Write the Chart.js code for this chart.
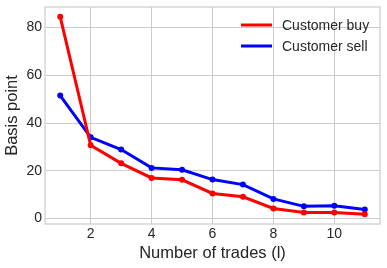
<!DOCTYPE html>
<html>
<head>
<meta charset="utf-8">
<script src="https://cdn.jsdelivr.net/npm/chart.js@4"></script>
<style>
  html, body { margin: 0; padding: 0; background: #fff; }
  #wrap { width: 387px; height: 268px; }
</style>
</head>
<body>
<div id="wrap"><canvas id="graph" width="387" height="268"></canvas></div>
<script>
// data
const trades = [1, 2, 3, 4, 5, 6, 7, 8, 9, 10, 11];
const customerBuy = [84.5, 30.7, 23.1, 17.0, 16.2, 10.5, 9.1, 4.2, 2.5, 2.5, 1.8];
const customerSell = [51.5, 34.0, 28.9, 21.2, 20.4, 16.3, 14.2, 8.2, 5.1, 5.3, 3.8];
const xTicks = [2, 4, 6, 8, 10];
const yTicks = [0, 20, 40, 60, 80];

const fontFamily = "'Liberation Sans', Arial, sans-serif";
const textColor = '#262626';
const gridColor = '#cccccc';

const toPoints = (ys) => trades.map((x, i) => ({ x: x, y: ys[i] }));

// frame round the plot area + legend inside, like the matplotlib whitegrid look
const framePlugin = {
    id: 'frame',
    afterDraw(chart) {
        const ctx = chart.ctx;
        const a = chart.chartArea;
        ctx.save();
        ctx.strokeStyle = gridColor;
        ctx.lineWidth = 1.2;
        ctx.strokeRect(a.left, a.top, a.right - a.left, a.bottom - a.top);

        // legend
        ctx.font = '14px ' + fontFamily;
        ctx.textBaseline = 'middle';
        ctx.textAlign = 'left';
        chart.data.datasets.forEach((ds, i) => {
            const y = 25 + i * 21;
            ctx.strokeStyle = ds.borderColor;
            ctx.lineWidth = 3;
            ctx.beginPath();
            ctx.moveTo(241, y);
            ctx.lineTo(272, y);
            ctx.stroke();
            ctx.fillStyle = textColor;
            ctx.fillText(ds.label, 282, y + 1);
        });
        ctx.restore();
    }
};

const ctx = document.getElementById('graph').getContext('2d');
const dataChart = new Chart(ctx, {
    type: 'line',
    data: {
        datasets: [
            {
                label: 'Customer buy',
                data: toPoints(customerBuy),
                borderColor: '#ff0000',
                backgroundColor: '#ff0000',
                pointBackgroundColor: '#ff0000',
                borderWidth: 3,
                pointRadius: 3,
                pointBorderWidth: 0,
                tension: 0,
            },
            {
                label: 'Customer sell',
                data: toPoints(customerSell),
                borderColor: '#0000ff',
                backgroundColor: '#0000ff',
                pointBackgroundColor: '#0000ff',
                borderWidth: 3,
                pointRadius: 3,
                pointBorderWidth: 0,
                tension: 0,
            },
        ],
    },
    options: {
        responsive: false,
        animation: false,
        devicePixelRatio: 1,
        layout: { padding: { top: 7, right: 7, left: 0, bottom: 0 } },
        plugins: {
            legend: { display: false },
            tooltip: { enabled: false },
        },
        scales: {
            x: {
                type: 'linear',
                min: 0.5,
                max: 11.5,
                afterBuildTicks: (axis) => { axis.ticks = xTicks.map(v => ({ value: v })); },
                afterFit: (axis) => {
                    axis.height = 44;
                    axis.paddingLeft = 0;
                    axis.paddingRight = 0;
                },
                grid: { color: gridColor, lineWidth: 1, drawTicks: false },
                border: { display: false },
                ticks: {
                    color: textColor,
                    padding: 2,
                    font: { family: fontFamily, size: 14 },
                    maxRotation: 0,
                },
                title: {
                    display: true,
                    text: 'Number of trades (l)',
                    color: textColor,
                    font: { family: fontFamily, size: 16.5 },
                    padding: { top: 1, bottom: 5 },
                },
            },
            y: {
                min: -2.3,
                max: 88.6,
                afterBuildTicks: (axis) => { axis.ticks = yTicks.map(v => ({ value: v })); },
                afterFit: (axis) => {
                    axis.width = 45;
                    axis.paddingTop = 0;
                    axis.paddingBottom = 0;
                },
                grid: { color: gridColor, lineWidth: 1, drawTicks: false },
                border: { display: false },
                ticks: {
                    color: textColor,
                    padding: 3,
                    font: { family: fontFamily, size: 14 },
                },
                title: {
                    display: true,
                    text: 'Basis point',
                    color: textColor,
                    font: { family: fontFamily, size: 16.5 },
                    padding: { top: 3, bottom: 2 },
                },
            },
        },
    },
    plugins: [framePlugin],
});
</script>
</body>
</html>
